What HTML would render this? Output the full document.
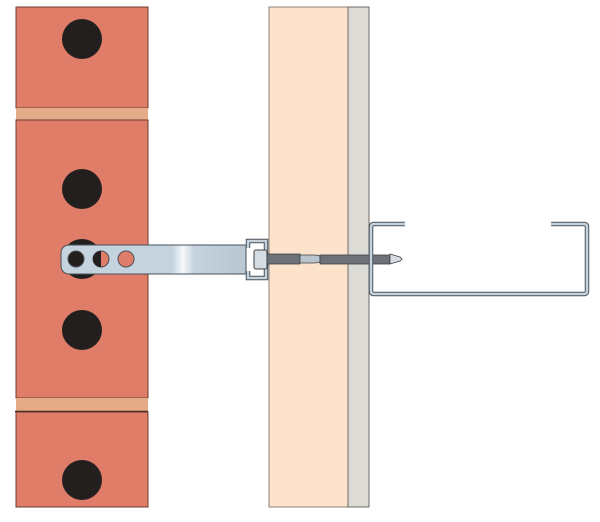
<!DOCTYPE html>
<html><head><style>html,body{margin:0;padding:0;background:#fff}</style></head>
<body>
<svg width="600" height="517" viewBox="0 0 600 517" xmlns="http://www.w3.org/2000/svg">
<defs>
<linearGradient id="tie" x1="0" x2="1" y1="0" y2="0">
<stop offset="0" stop-color="#c5d3de"/><stop offset="0.6" stop-color="#c5d3de"/>
<stop offset="0.66" stop-color="#f4f8fb"/><stop offset="0.72" stop-color="#c5d3de"/><stop offset="1" stop-color="#b8c7d3"/>
</linearGradient>
</defs>
<!-- bricks -->
<rect x="16" y="7" width="132" height="101" fill="#df7d69" stroke="#6b3b30" stroke-width="1"/>
<rect x="16" y="108" width="132" height="12" fill="#e3ab88"/>
<rect x="16" y="120" width="132" height="278" fill="#df7d69" stroke="#6b3b30" stroke-width="1"/>
<rect x="16" y="398" width="132" height="13" fill="#e3ab88"/>
<line x1="15" y1="411.5" x2="148" y2="411.5" stroke="#3a1e18" stroke-width="1.5"/>
<rect x="16" y="412" width="132" height="95" fill="#df7d69" stroke="#6b3b30" stroke-width="1"/>
<g fill="#231f1f">
<circle cx="82" cy="39" r="20"/><circle cx="82" cy="189" r="20"/><circle cx="82" cy="259" r="20"/>
<circle cx="82" cy="330" r="20"/><circle cx="82" cy="480" r="20"/>
</g>
<!-- board -->
<rect x="269" y="7" width="79" height="500" fill="#fde3cb" stroke="#8b8178" stroke-width="1"/>
<rect x="348" y="7" width="21" height="500" fill="#dcdbd5" stroke="#6f6a64" stroke-width="1"/>
<!-- tie -->
<path d="M70 245 H246 V274 H70 Q61 274 61 265 V254 Q61 245 70 245 Z" fill="url(#tie)" stroke="#4a5058" stroke-width="1"/>
<circle cx="76" cy="259" r="8" fill="#231f1f" stroke="#4a5058"/>
<circle cx="101" cy="259" r="8" fill="#df7d69" stroke="#4a5058"/>
<path d="M101 251 A8 8 0 0 0 101 267 Z" fill="#231f1f"/>
<circle cx="126" cy="259" r="8" fill="#df7d69" stroke="#4a5058"/>
<!-- bracket -->
<path d="M248 248 V241 H266 V278 H248 V271" fill="none" stroke="#4a5058" stroke-width="4.5"/>
<path d="M248 248 V241 H266 V278 H248 V271" fill="none" stroke="#c5d3de" stroke-width="2.5"/>
<!-- screw -->
<rect x="266" y="254" width="34" height="10" fill="#6d7278" stroke="#3c4046" stroke-width="0.8"/>
<path d="M300 255 H315 L320 256 V262 L315 263 H300 Z" fill="#b9c4cc" stroke="#3c4046" stroke-width="0.8"/>
<rect x="320" y="255" width="70" height="9" fill="#6d7278" stroke="#3c4046" stroke-width="0.8"/>
<path d="M390 254 L400 257 L402 259 L400 261 L390 264 Z" fill="#d8dee3" stroke="#3c4046" stroke-width="0.8"/>
<rect x="254" y="250" width="13" height="19" rx="2" fill="#d5dde3" stroke="#3c4046" stroke-width="1"/>
<!-- channel -->
<path d="M405 224 H374 Q371 224 371 227 V291 Q371 294 374 294 H584 Q587 294 587 291 V227 Q587 224 584 224 H551" fill="none" stroke="#4a5058" stroke-width="4.5"/>
<path d="M405 224 H374 Q371 224 371 227 V291 Q371 294 374 294 H584 Q587 294 587 291 V227 Q587 224 584 224 H551" fill="none" stroke="#c5d3de" stroke-width="2.5"/>
</svg>
</body></html>
